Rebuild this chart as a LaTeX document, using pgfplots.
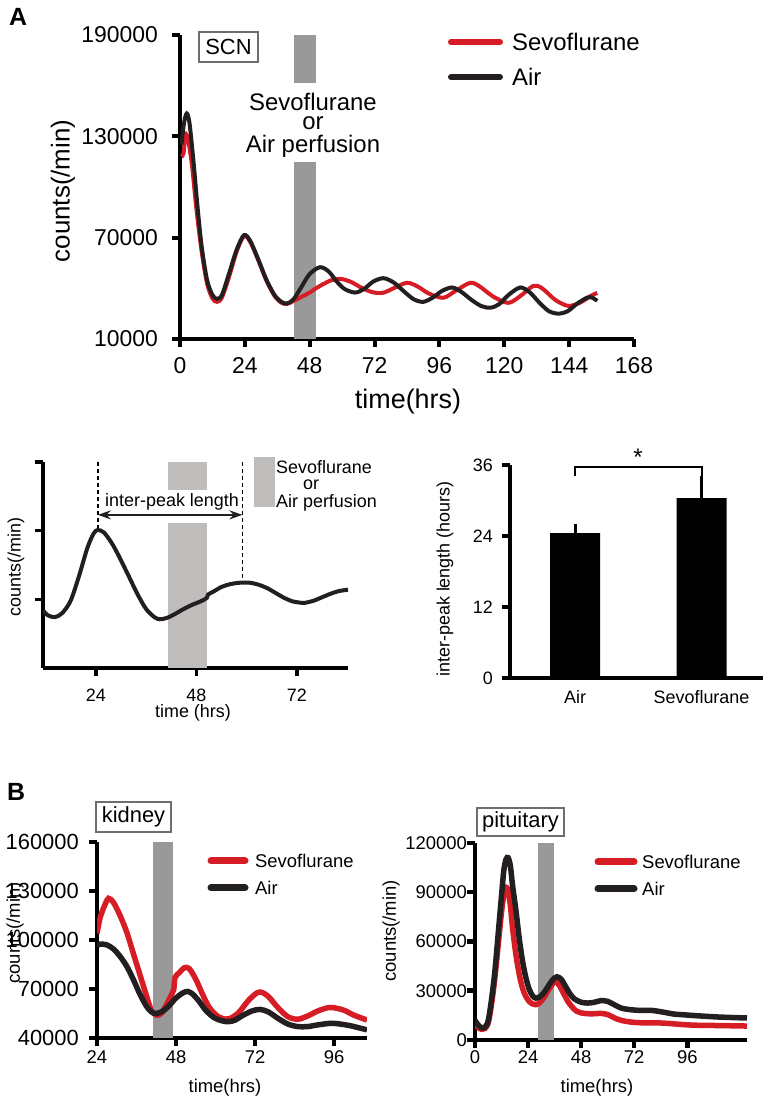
\documentclass[border=0pt]{standalone}
\usepackage{pgfplots}
\pgfplotsset{compat=1.18}
\usepackage{fontspec}
\setmainfont{Liberation Sans}
\usetikzlibrary{arrows.meta}
\definecolor{sevred}{RGB}{214,28,36}
\definecolor{airblack}{RGB}{35,31,32}
\definecolor{bargray}{RGB}{153,153,153}
\definecolor{lightgray2}{RGB}{191,188,188}
\definecolor{boxgray}{RGB}{110,110,110}
\newcommand{\fs}[1]{\fontsize{#1}{#1}\selectfont}
\pgfplotsset{
  myaxis/.style={scale only axis, axis lines=left, axis line style={-, line width=#1, black},
    tick align=outside, major tick length=8bp, tick style={line width=#1, black},
    scaled ticks=false, /pgf/number format/fixed, /pgf/number format/precision=0,
    /pgf/number format/1000 sep={}, /pgf/number format/assume math mode=true,
    anchor=south west},
}
\begin{document}
\begin{tikzpicture}
\useasboundingbox (0,0) rectangle (771bp,1102bp);
% ================= TOP PANEL =================
\begin{axis}[myaxis=4bp, at={(180bp,763bp)}, width=454bp, height=304bp,
  xmin=0, xmax=168, ymin=10000, ymax=190000,
  xtick={0,24,...,168}, ytick={10000,70000,130000,190000},
  ticklabel style={font=\fs{23}, inner sep=0pt},
  yticklabel style={xshift=-14bp}, xticklabel style={yshift=-10.6bp}]
\addplot[fill=bargray, draw=none] coordinates {(42,10000)(50.5,10000)(50.5,114800)(42,114800)};
\addplot[fill=bargray, draw=none] coordinates {(42,161600)(50.5,161600)(50.5,190000)(42,190000)};
\addplot[sevred, line width=4bp, smooth, tension=0.5] coordinates {
(0.5,118000)(1.3,120000)(2.0,131000)(3.0,128000)(4.5,112000)(6,88000)(8,62000)(10,43000)(12,34000)(13.7,32000)
(15.5,34500)(18,46000)(21,62000)(23.7,71000)(26,67500)(29,56500)(32,44500)(35,35500)(37.5,31500)(39.6,30800)
(42,32500)(45,35000)(48,37500)(50,39700)(53,42500)(56,44800)(59.3,45600)(63,44000)(67,40500)(71,37800)(75,37300)
(79,40000)(84,43300)(88,41000)(92,37000)(97.4,34400)(102,38500)(107.4,43300)(111,41000)(116,35000)(121.5,31400)
(126,35500)(130.8,41500)(134,40000)(139,33000)(143.7,29600)(148,31500)(152,35500)(154.4,37300)};
\addplot[airblack, line width=4bp, smooth, tension=0.5] coordinates {
(0.5,125000)(1.5,138000)(2.5,143500)(3.5,138000)(5,115000)(6.5,88000)(8,65000)(10,45000)(12,36000)(13.7,33800)
(15.5,36000)(18,48000)(21,63000)(23.7,71500)(26,68000)(29,57000)(32,45000)(35,36000)(37.5,32000)(39.6,31000)
(42,33500)(45,41000)(48,48500)(51.8,52500)(55,50000)(58,44000)(61,39500)(64.8,37500)(68,39500)(71.5,44000)
(75.3,46000)(79,43500)(83,38000)(86.5,33500)(90,32000)(93.5,34500)(97,38500)(100.7,40500)(104,38000)(108,33000)
(111.5,29500)(114.8,28500)(118,30500)(121.5,36000)(125.9,40500)(129.5,37500)(133,31500)(136.5,26500)(140,25000)
(143.5,26500)(147,31000)(150.7,34500)(152.5,34500)(154.4,32600)};
\end{axis}
\node[font=\bfseries\fs{25}] at (18bp,1085bp) {A};
\node[rotate=90, font=\fs{26}] at (63bp,911bp) {counts(/min)};
\node[font=\fs{27}] at (408bp,700bp) {time(hrs)};
\draw[line width=1.2bp, boxgray] (199bp,1040bp) rectangle (258bp,1070bp);
\node[font=\fs{22}] at (228.5bp,1055bp) {SCN};
\node[font=\fontsize{24}{21}\selectfont, align=center, anchor=north, inner sep=0pt] at (313bp,1009.5bp)
  {Sevoflurane\\[-1bp]or\\[2bp]Air perfusion};
\draw[sevred, line width=6bp, line cap=round] (451bp,1060bp) -- (500bp,1060bp);
\node[font=\fs{24}, anchor=west, inner sep=0pt] at (512bp,1060bp) {Sevoflurane};
\draw[airblack, line width=6bp, line cap=round] (451bp,1025bp) -- (500bp,1025bp);
\node[font=\fs{24}, anchor=west, inner sep=0pt] at (512bp,1025bp) {Air};
% ================= MIDDLE LEFT =================
\begin{axis}[myaxis=3.5bp, at={(43bp,434bp)}, width=305bp, height=206bp,
  xmin=11.4, xmax=84.2, ymin=0, ymax=3,
  xtick={24,48,72}, ytick={1,2,3}, yticklabels={},
  ticklabel style={font=\fs{18}, inner sep=0pt}, xticklabel style={yshift=-12.5bp}]
\addplot[fill=lightgray2, draw=none] coordinates {(41.2,0)(50.6,0)(50.6,2.11)(41.2,2.11)};
\addplot[fill=lightgray2, draw=none] coordinates {(41.2,2.59)(50.6,2.59)(50.6,3)(41.2,3)};
\addplot[black, line width=1.3bp, dash pattern=on 4bp off 3bp] coordinates {(24.5,3)(24.5,2.01)};
\addplot[black, line width=1.3bp, dash pattern=on 4bp off 3bp] coordinates {(59,3)(59,1.24)};
\addplot[airblack, line width=4bp, smooth, tension=0.5] coordinates {
(11.4,0.84)(12.5,0.77)(14.2,0.74)(16,0.80)(18,0.98)(20,1.34)(22,1.75)(23.5,1.96)(24.5,2.01)(26,1.97)(28,1.80)
(30,1.57)(32,1.32)(34,1.07)(36,0.86)(38,0.74)(39.3,0.71)(41,0.73)(43,0.79)(45,0.86)(47,0.92)(49,0.97)(50.5,1.02)
(50.8,1.07)(52,1.11)(54,1.18)(56,1.22)(58,1.24)(59.5,1.245)(61,1.24)(63,1.21)(65,1.16)(67,1.09)(69,1.02)(71,0.97)
(73,0.95)(74,0.95)(76,0.98)(78,1.03)(80,1.08)(82,1.12)(84.2,1.14)};
\draw[airblack, line width=2bp, {Stealth[length=13bp,width=9bp]}-{Stealth[length=13bp,width=9bp]}] (axis cs:24.5,2.23) -- (axis cs:59,2.23);
\node[font=\fs{18}] at (axis cs:42.2,2.42) {inter-peak length};
\end{axis}
\node[rotate=90, font=\fs{18}] at (16bp,535bp) {counts(/min)};
\node[font=\fs{18}] at (193bp,389bp) {time (hrs)};
\fill[lightgray2] (254bp,595bp) rectangle (275bp,645bp);
\node[font=\fontsize{18}{17}\selectfont, align=left, anchor=north west, inner sep=0pt] at (276bp,641.5bp)
  {Sevoflurane\\[-1.5bp]\hspace*{27bp}or\\[1.5bp]Air perfusion};
% ================= MIDDLE RIGHT =================
\begin{axis}[myaxis=3.5bp, at={(510bp,424bp)}, width=253bp, height=213bp,
  xmin=-0.514, xmax=1.486, ymin=0, ymax=36, clip=false,
  xtick={0,1}, xticklabels={Air,Sevoflurane}, x tick style={draw=none},
  ytick={0,12,24,36},
  ticklabel style={font=\fs{18}, inner sep=0pt}, yticklabel style={xshift=-9bp}, xticklabel style={yshift=-4.5bp}]
\addplot[ybar, bar width=50bp, fill=black, draw=none,
  error bars/.cd, y dir=plus, y explicit,
  error bar style={line width=3bp, black}, error mark options={line width=3bp, mark size=5bp, black}]
  coordinates {(0,24.5) +- (0,0.7) (1,30.4) +- (0,2.9)};
\draw[line width=2bp, black] (axis cs:0,34.1) -- (axis cs:0,35.6) -- (axis cs:1,35.6) -- (axis cs:1,34.1);
\end{axis}
\node[rotate=90, font=\fs{18}] at (445bp,523bp) {inter-peak length (hours)};
\node[font=\fs{24}, anchor=base] at (638bp,636bp) {*};
% ================= KIDNEY =================
\begin{axis}[myaxis=4.5bp, at={(97bp,64bp)}, width=270bp, height=196bp,
  xmin=24, xmax=106, ymin=40000, ymax=160000,
  xtick={24,48,72,96}, ytick={40000,70000,100000,130000,160000},
  yticklabel style={font=\fs{22}, inner sep=0pt, xshift=-10bp},
  xticklabel style={font=\fs{18.5}, inner sep=0pt, yshift=-4.5bp}]
\addplot[fill=bargray, draw=none] coordinates {(41,40000)(47.1,40000)(47.1,160000)(41,160000)};
\addplot[sevred, line width=5.5bp, smooth, tension=0.5] coordinates {
(24,104000)(25,114000)(26.5,122000)(27.5,125500)(29,123000)(31,115000)(33,105000)(35,92000)(37,79000)(39,66000)
(40.5,57000)(42,54000)(43.5,55000)(45,60000)(46.5,66000)(47.3,69500)(47.7,77000)(49,80000)(50.5,83000)(52,82500)
(54,76000)(56,67000)(58,59000)(60.5,53500)(63,51500)(64.5,52000)(67,55500)(70,63000)(72.5,67500)(74,68000)
(76,65500)(79,58500)(82,53000)(85,51500)(88,53500)(91,56500)(94,58500)(96,58500)(99,57000)(102,54000)(106,51000)};
\addplot[airblack, line width=5.5bp, smooth, tension=0.5] coordinates {
(24,96500)(25,97500)(27,97000)(29,94500)(31,90000)(33,84000)(35,76000)(37,67000)(39,59500)(40.5,56000)(42,55000)
(44,56500)(46,60000)(48,64500)(50,67500)(51.5,68500)(53,67000)(55,62500)(57,57000)(59.5,52500)(62,50500)(64,50000)
(66,51000)(68,53500)(71,56500)(73.5,57500)(76,56000)(79,52000)(82,48500)(85,47000)(88,47000)(91,48000)(95,49000)
(98,48500)(101,47500)(104,46000)(106,45000)};
\end{axis}
\node[font=\bfseries\fs{25}] at (16bp,310bp) {B};
\node[rotate=90, font=\fs{18.5}] at (15bp,169bp) {counts(/min)};
\node[font=\fs{18.5}] at (225bp,14bp) {time(hrs)};
\draw[line width=1.2bp, boxgray] (96bp,270bp) rectangle (171bp,300bp);
\node[font=\fs{22}] at (133.5bp,285bp) {kidney};
\draw[sevred, line width=7bp, line cap=round] (211bp,241bp) -- (245bp,241bp);
\node[font=\fs{18.5}, anchor=west, inner sep=0pt] at (255bp,241bp) {Sevoflurane};
\draw[airblack, line width=7bp, line cap=round] (211bp,214bp) -- (245bp,214bp);
\node[font=\fs{18.5}, anchor=west, inner sep=0pt] at (255bp,214bp) {Air};
% ================= PITUITARY =================
\begin{axis}[myaxis=4.5bp, at={(475bp,62bp)}, width=272bp, height=197bp,
  xmin=0, xmax=123, ymin=0, ymax=120000,
  xtick={0,24,48,72,96}, ytick={0,30000,60000,90000,120000},
  ticklabel style={font=\fs{18.5}, inner sep=0pt},
  yticklabel style={xshift=0bp}, xticklabel style={yshift=-2.5bp}]
\addplot[fill=bargray, draw=none] coordinates {(28.4,0)(35.7,0)(35.7,120000)(28.4,120000)};
\addplot[sevred, line width=5.5bp, smooth, tension=0.5] coordinates {
(0,10000)(1.5,7500)(3,6500)(4.5,7000)(6,10500)(7.5,22000)(9,38000)(10.5,58000)(12,78000)(13,88000)(14,93000)
(15,91000)(16,82000)(17,68000)(18.5,52000)(20,40000)(21.5,31500)(23,26500)(24.5,23500)(26,22000)(27.5,21500)
(29,22500)(31,25500)(33,30000)(35,34000)(36.5,35500)(38,33500)(40,28500)(42,23500)(44,20000)(46,17500)(48,16500)
(51,16000)(54,16000)(57,16200)(60,15500)(63,13500)(66,12000)(70,11000)(75,10500)(80,10500)(85,10300)(90,9800)
(95,9300)(100,9000)(110,8800)(123,8500)};
\addplot[airblack, line width=5.5bp, smooth, tension=0.5] coordinates {
(0,12000)(1.5,9000)(3,7500)(4.5,7800)(6,12000)(7.5,25000)(9,42000)(10.5,65000)(12,88000)(13,103000)(14,110000)
(15,111000)(16,106000)(17,94000)(18.5,79000)(20,62000)(21.5,48000)(23,38000)(24.5,31000)(26,27000)(27.5,25500)
(29,26000)(31,28500)(33,32500)(35,36500)(37,38500)(39,37000)(41,32500)(43,28000)(45,25000)(48,23000)(51,22500)
(54,23000)(57,24000)(60,23500)(63,21500)(66,19500)(70,18500)(75,18000)(80,18000)(85,17000)(90,15800)(95,15300)
(100,14800)(110,14000)(123,13400)};
\end{axis}
\node[rotate=90, font=\fs{18.5}] at (391bp,171bp) {counts(/min)};
\node[font=\fs{18.5}] at (597bp,14bp) {time(hrs)};
\draw[line width=1.2bp, boxgray] (477bp,266bp) rectangle (564bp,294bp);
\node[font=\fs{22}] at (520.5bp,280bp) {pituitary};
\draw[sevred, line width=7bp, line cap=round] (598bp,240bp) -- (634bp,240bp);
\node[font=\fs{18.5}, anchor=west, inner sep=0pt] at (642bp,240bp) {Sevoflurane};
\draw[airblack, line width=7bp, line cap=round] (598bp,213bp) -- (634bp,213bp);
\node[font=\fs{18.5}, anchor=west, inner sep=0pt] at (642bp,213bp) {Air};
\end{tikzpicture}
\end{document}
